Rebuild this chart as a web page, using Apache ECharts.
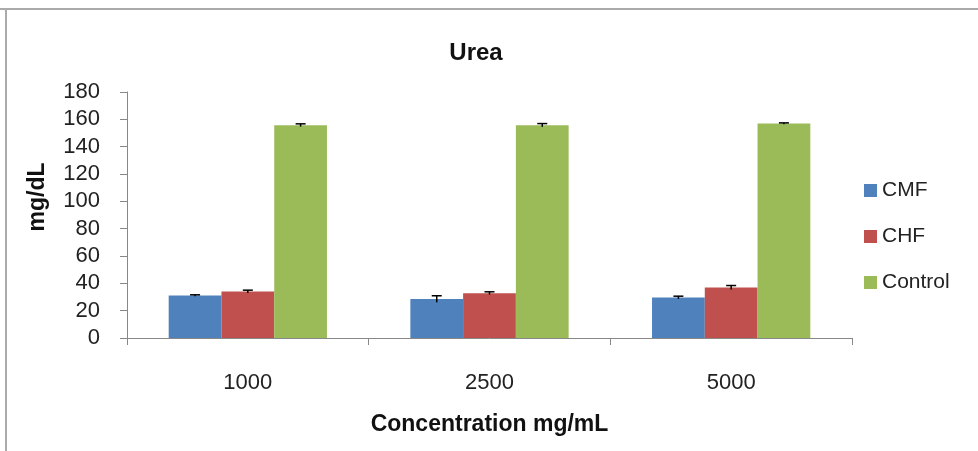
<!DOCTYPE html>
<html><head><meta charset="utf-8">
<script src="https://cdn.jsdelivr.net/npm/echarts@6/dist/echarts.min.js"></script>
<style>html,body{margin:0;padding:0;background:#fff}#c{width:978px;height:451px}</style>
</head><body><div id="c"></div>
<script>
const categories = ['1000', '2500', '5000'];
const seriesNames = ['CMF', 'CHF', 'Control'];
const cmf = [31.1, 28.5, 29.6];
const chf = [34.0, 32.8, 36.9];
const control = [155.7, 155.7, 156.9];
const cmfErr = [0.5, 2.4, 1.0];
const chfErr = [1.0, 1.0, 1.5];
const controlErr = [1.0, 1.2, 0.5];
const colors = ['#4F81BD', '#C0504D', '#9BBB59'];

const FONT = '"Liberation Sans", sans-serif';
const chart = echarts.init(document.getElementById('c'));
const values = [cmf, chf, control];
const errs = [cmfErr, chfErr, controlErr];
const nSeries = 3;

function errSeries(idx) {
  const data = categories.map((c, i) => [i, values[idx][i], errs[idx][i]]);
  return {
    type: 'custom', name: seriesNames[idx] + ' err', z: 10,
    renderItem: function (params, api) {
      const ci = api.value(0), v = api.value(1), e = api.value(2);
      const bw = api.size([1, 0])[0];
      const groupW = bw * 0.655;
      const barW = groupW / nSeries;
      const cx = api.coord([ci, 0])[0] - groupW / 2 + barW * (idx + 0.5);
      const top = api.coord([ci, v + e])[1];
      const bot = api.coord([ci, v - e])[1];
      const st = { stroke: '#000', lineWidth: 1.5 };
      return { type: 'group', children: [
        { type: 'line', shape: { x1: cx, y1: top, x2: cx, y2: bot }, style: st },
        { type: 'line', shape: { x1: cx - 5, y1: top, x2: cx + 5, y2: top }, style: st }
      ]};
    },
    data: data, silent: true, tooltip: { show: false }
  };
}

const barSeries = seriesNames.map((n, idx) => ({
  name: n, type: 'bar', data: values[idx], barGap: '0%', barCategoryGap: '34.5%',
  itemStyle: { color: colors[idx] }
}));

chart.setOption({
  animation: false,
  title: { text: 'Urea', left: 471, top: 36, textAlign: 'center',
    textStyle: { fontFamily: FONT, fontSize: 24, fontWeight: 'bold', color: '#111' } },
  legend: {
    data: seriesNames, orient: 'vertical', left: 859, top: 175, itemGap: 25,
    itemWidth: 13, itemHeight: 13, icon: 'rect',
    textStyle: { fontFamily: FONT, fontSize: 21, color: '#222' }
  },
  grid: { left: 127, right: 126, top: 92, bottom: 113 },
  xAxis: {
    type: 'category', data: categories,
    axisLine: { lineStyle: { color: '#888', width: 1 } },
    axisTick: { show: true, length: 7, lineStyle: { color: '#888' } },
    axisLabel: { fontFamily: FONT, fontSize: 22, color: '#222', margin: 34 },
    name: 'Concentration mg/mL', nameLocation: 'middle', nameGap: 75,
    nameTextStyle: { fontFamily: FONT, fontSize: 23, fontWeight: 'bold', color: '#111' }
  },
  yAxis: {
    type: 'value', min: 0, max: 180, interval: 20,
    axisLine: { show: true, lineStyle: { color: '#888', width: 1 } },
    axisTick: { show: true, length: 7, lineStyle: { color: '#888' } },
    splitLine: { show: false },
    axisLabel: { fontFamily: FONT, fontSize: 22, color: '#222', margin: 27 },
    name: 'mg/dL', nameLocation: 'middle', nameGap: 78, nameRotate: 90,
    nameTextStyle: { fontFamily: FONT, fontSize: 23, fontWeight: 'bold', color: '#111', padding: [0, 0, 0, 36] }
  },
  graphic: [
    { type: 'line', shape: { x1: 0, y1: 9, x2: 978, y2: 9 }, style: { stroke: '#aaa', lineWidth: 2 } },
    { type: 'line', shape: { x1: 6, y1: 9, x2: 6, y2: 451 }, style: { stroke: '#aaa', lineWidth: 2 } }
  ],
  series: barSeries.concat([errSeries(0), errSeries(1), errSeries(2)])
});
</script></body></html>
